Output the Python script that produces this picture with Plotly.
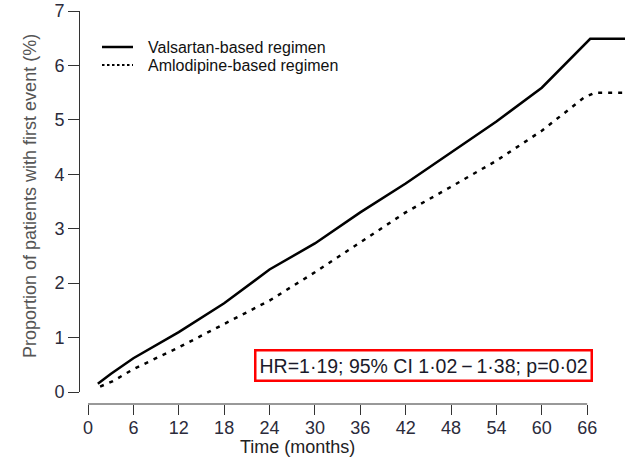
import plotly.graph_objects as go

# Data
val_months = [1.3, 3, 6, 12, 18, 24, 30, 36, 42, 48, 54, 60, 66.4, 72]
val_pct = [0.15, 0.33, 0.62, 1.1, 1.63, 2.25, 2.73, 3.3, 3.83, 4.4, 4.97, 5.59, 6.49, 6.49]
aml_months = [1.6, 3.3, 6, 12, 18, 24, 30, 36, 42, 48, 54, 60, 65.5, 67, 72]
aml_pct = [0.1, 0.2, 0.42, 0.82, 1.25, 1.68, 2.2, 2.75, 3.3, 3.77, 4.25, 4.8, 5.4, 5.5, 5.5]
x_ticks = [0, 6, 12, 18, 24, 30, 36, 42, 48, 54, 60, 66]
y_ticks = [0, 1, 2, 3, 4, 5, 6, 7]
series_names = ["Valsartan-based regimen", "Amlodipine-based regimen"]

FONT = "Liberation Sans, Arial, sans-serif"
AX = "#333333"
TICKC = "#2b2b3b"

W, H = 625, 460
PL, PT, PB = 79, 11, 56          # plot area in page: x 79..625, y 11..404
PW, PH = W - PL, H - PT - PB     # 546 x 393


def px(xp):   # page x -> paper
    return (xp - PL) / PW


def py(yp):   # page y -> paper
    return (H - PB - yp) / PH


fig = go.Figure()
fig.add_trace(go.Scatter(x=val_months, y=val_pct, mode="lines",
                         name=series_names[0], showlegend=False,
                         line=dict(color="black", width=2.5)))
fig.add_trace(go.Scatter(x=aml_months, y=aml_pct, mode="lines",
                         name=series_names[1], showlegend=False,
                         line=dict(color="black", width=2.5, dash="4px,6px")))

legend_shapes = [
    dict(type="line", xref="paper", yref="paper", x0=px(102), x1=px(133),
         y0=py(47), y1=py(47), line=dict(color="black", width=2.5)),
    dict(type="line", xref="paper", yref="paper", x0=px(102), x1=px(133),
         y0=py(65), y1=py(65), line=dict(color="black", width=2.2, dash="2.5px,2.5px")),
]
legend_texts = [
    dict(text=series_names[0], xref="paper", yref="paper", x=px(146), y=py(47),
         xanchor="left", yanchor="middle", showarrow=False,
         font=dict(size=16, color="#111")),
    dict(text=series_names[1], xref="paper", yref="paper", x=px(146), y=py(65),
         xanchor="left", yanchor="middle", showarrow=False,
         font=dict(size=16, color="#111")),
]

fig.update_layout(
    width=W, height=H,
    margin=dict(l=PL, r=0, t=PT, b=PB, pad=0),
    paper_bgcolor="white", plot_bgcolor="white",
    font=dict(family=FONT, size=16, color=AX),
    showlegend=False,
    xaxis=dict(domain=[0, 1], range=[-1.19, 71.0], anchor="free", position=0,
               showline=False, showgrid=False, zeroline=False,
               ticks="outside", ticklen=10, tickwidth=1, tickcolor=AX,
               ticklabelstandoff=-3,
               tickvals=x_ticks, tickfont=dict(size=18, color=TICKC)),
    yaxis=dict(domain=[12 / PH, 1], range=[0, 7], anchor="free", position=0,
               showline=True, linecolor=AX, linewidth=1,
               showgrid=False, zeroline=False,
               ticks="outside", ticklen=11, tickwidth=1, tickcolor=AX,
               tickvals=y_ticks, tickfont=dict(size=18, color=TICKC)),
    shapes=[dict(type="line", xref="x", yref="paper", x0=x_ticks[0], x1=x_ticks[-1],
                 y0=0, y1=0, line=dict(color=AX, width=1))] + legend_shapes,
    annotations=[
        dict(text="Proportion of patients with first event (%)", textangle=-90,
             xref="paper", yref="paper", x=px(30), y=py(196),
             xanchor="center", yanchor="middle",
             showarrow=False, font=dict(size=18, color="#555")),
        dict(text="Time (months)", xref="paper", yref="paper",
             x=px(297), y=py(447), xanchor="center", yanchor="middle",
             showarrow=False, font=dict(size=18, color="#222")),
        dict(text="HR=1·19; 95% CI 1·02\u2009\u2212\u20091·38; p=0·02",
             xref="paper", yref="paper", x=px(423.5), y=py(365),
             xanchor="center", yanchor="middle",
             showarrow=False, font=dict(size=19.5, color="#1a1a2a"),
             bordercolor="#ff0000", borderwidth=2.5, borderpad=3, bgcolor="white"),
    ] + legend_texts,
)

fig.write_html("out.html",
               config={"displayModeBar": False},
               post_script="document.body.style.margin='0';document.body.style.overflow='hidden';")
